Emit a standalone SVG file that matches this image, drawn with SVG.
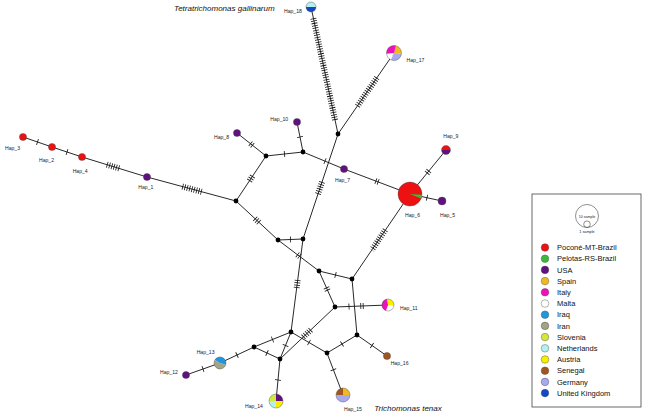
<svg xmlns="http://www.w3.org/2000/svg" width="650" height="419" viewBox="0 0 650 419">
<style>
.e{stroke:#111;stroke-width:0.9;fill:none}
.t{stroke:#111;stroke-width:6;stroke-dasharray:0.8 1.6;fill:none}
.j{fill:#000}
.n{stroke:#444;stroke-width:0.4}
.lb{font-family:"Liberation Sans",Arial,sans-serif;font-size:5.1px;fill:#222}
.sp{font-family:"Liberation Sans",Arial,sans-serif;font-size:8px;font-style:italic;fill:#111}
.lg{font-family:"Liberation Sans",Arial,sans-serif;font-size:7.5px;fill:#111}
.red{fill:#ee1111}.grn{fill:#3cb93c}.usa{fill:#60117f}.spa{fill:#f2b81f}.ita{fill:#ee11bb}.mal{fill:#ffffff}
.irq{fill:#2196dc}.irn{fill:#a3a386}.slo{fill:#d4e83a}.net{fill:#b3f0f0}.aus{fill:#f5f000}.sen{fill:#a0561e}
.ger{fill:#a9a9ee}.uk{fill:#1148c8}
</style>
<rect width="650" height="419" fill="#ffffff"/>
<g id="connectors">
<line class="e" x1="23" y1="137" x2="52" y2="147"/>
<line class="e" x1="52" y1="147" x2="82" y2="157"/>
<line class="e" x1="82" y1="157" x2="147" y2="177"/>
<line class="e" x1="147" y1="177" x2="236" y2="201"/>
<line class="e" x1="236" y1="201" x2="266" y2="156"/>
<line class="e" x1="237" y1="133" x2="266" y2="156"/>
<line class="e" x1="266" y1="156" x2="303" y2="152"/>
<line class="e" x1="303" y1="152" x2="297" y2="122"/>
<line class="e" x1="303" y1="152" x2="344" y2="169"/>
<line class="e" x1="344" y1="169" x2="410" y2="194"/>
<line class="e" x1="338" y1="134" x2="311" y2="7"/>
<line class="e" x1="338" y1="134" x2="394" y2="53"/>
<line class="e" x1="338" y1="134" x2="303" y2="239"/>
<line class="e" x1="236" y1="201" x2="278" y2="240"/>
<line class="e" x1="278" y1="240" x2="303" y2="239"/>
<line class="e" x1="278" y1="240" x2="319" y2="271"/>
<line class="e" x1="303" y1="239" x2="291" y2="332"/>
<line class="e" x1="319" y1="271" x2="352" y2="279"/>
<line class="e" x1="319" y1="271" x2="335" y2="307"/>
<line class="e" x1="352" y1="279" x2="410" y2="194"/>
<line class="e" x1="352" y1="279" x2="357" y2="335"/>
<line class="e" x1="335" y1="307" x2="388" y2="305"/>
<line class="e" x1="335" y1="307" x2="280" y2="359"/>
<line class="e" x1="291" y1="332" x2="254" y2="347"/>
<line class="e" x1="291" y1="332" x2="280" y2="359"/>
<line class="e" x1="254" y1="347" x2="280" y2="359"/>
<line class="e" x1="291" y1="332" x2="327" y2="353"/>
<line class="e" x1="327" y1="353" x2="357" y2="335"/>
<line class="e" x1="357" y1="335" x2="387" y2="356"/>
<line class="e" x1="327" y1="353" x2="343" y2="395"/>
<line class="e" x1="280" y1="359" x2="276" y2="401"/>
<line class="e" x1="254" y1="347" x2="220" y2="363"/>
<line class="e" x1="220" y1="363" x2="186" y2="375"/>
<line class="e" x1="410" y1="194" x2="446" y2="150"/>
<line class="e" x1="410" y1="194" x2="442" y2="201"/>
<!-- mutation ticks -->
<line class="t" x1="37.12" y1="141.87" x2="37.88" y2="142.13"/>
<line class="t" x1="66.62" y1="151.87" x2="67.38" y2="152.13"/>
<line class="t" x1="106.88" y1="164.62" x2="119.12" y2="168.38"/>
<line class="t" x1="182.35" y1="186.53" x2="201.66" y2="191.73"/>
<line class="t" x1="250.25" y1="143.51" x2="252.75" y2="145.49"/>
<line class="t" x1="284.1" y1="154.04" x2="284.9" y2="153.96"/>
<line class="t" x1="300.08" y1="137.39" x2="299.92" y2="136.61"/>
<line class="t" x1="324.63" y1="160.97" x2="325.37" y2="161.27"/>
<line class="t" x1="375.5" y1="180.93" x2="378.5" y2="182.07"/>
<line class="t" x1="252.55" y1="176.17" x2="249.45" y2="180.83"/>
<line class="t" x1="254.95" y1="218.59" x2="259.05" y2="222.41"/>
<line class="t" x1="290.1" y1="239.52" x2="290.9" y2="239.48"/>
<line class="t" x1="322.02" y1="181.93" x2="317.98" y2="194.07"/>
<line class="t" x1="335" y1="120" x2="313.3" y2="18"/>
<line class="t" x1="357.4" y1="106" x2="377.4" y2="77"/>
<line class="t" x1="426.99" y1="173.24" x2="429.01" y2="170.76"/>
<line class="t" x1="426.61" y1="197.63" x2="427.39" y2="197.81"/>
<line class="t" x1="385.4" y1="230" x2="371.8" y2="250"/>
<line class="t" x1="297.22" y1="254.54" x2="299.78" y2="256.46"/>
<line class="t" x1="297.71" y1="280.03" x2="296.69" y2="287.97"/>
<line class="t" x1="335.11" y1="274.9" x2="335.89" y2="275.1"/>
<line class="t" x1="326.35" y1="287.54" x2="327.65" y2="290.46"/>
<line class="t" x1="348.6" y1="306.49" x2="349.4" y2="306.45"/>
<line class="t" x1="360.4" y1="306.04" x2="363.6" y2="305.92"/>
<line class="t" x1="310.78" y1="329.93" x2="303.22" y2="337.07"/>
<line class="t" x1="272.87" y1="339.35" x2="272.13" y2="339.65"/>
<line class="t" x1="285.65" y1="345.13" x2="285.35" y2="345.87"/>
<line class="t" x1="266.64" y1="352.83" x2="267.36" y2="353.17"/>
<line class="t" x1="308.65" y1="342.3" x2="309.35" y2="342.7"/>
<line class="t" x1="341.66" y1="344.21" x2="342.34" y2="343.79"/>
<line class="t" x1="371.67" y1="345.27" x2="372.33" y2="345.73"/>
<line class="t" x1="333.26" y1="369.43" x2="333.54" y2="370.17"/>
<line class="t" x1="278.04" y1="379.6" x2="277.96" y2="380.4"/>
<line class="t" x1="237.36" y1="354.83" x2="236.64" y2="355.17"/>
<line class="t" x1="203.38" y1="368.87" x2="202.62" y2="369.13"/>
</g>
<g id="junctions">
<circle class="j" cx="338" cy="134" r="2.4"/>
<circle class="j" cx="236" cy="201" r="2.4"/>
<circle class="j" cx="266" cy="156" r="2.4"/>
<circle class="j" cx="303" cy="152" r="2.4"/>
<circle class="j" cx="278" cy="240" r="2.4"/>
<circle class="j" cx="303" cy="239" r="2.4"/>
<circle class="j" cx="319" cy="271" r="2.4"/>
<circle class="j" cx="352" cy="279" r="2.4"/>
<circle class="j" cx="335" cy="307" r="2.4"/>
<circle class="j" cx="357" cy="335" r="2.4"/>
<circle class="j" cx="291" cy="332" r="2.4"/>
<circle class="j" cx="254" cy="347" r="2.4"/>
<circle class="j" cx="280" cy="359" r="2.4"/>
<circle class="j" cx="327" cy="353" r="2.4"/>
</g>
<g id="Hap_18">
<path class="net" d="M306,7 A5,5 0 0 1 316,7 Z"/>
<path class="uk" d="M316,7 A5,5 0 0 1 306,7 Z"/>
<circle cx="311" cy="7" r="5" fill="none" class="n"/>
<text class="lb" x="284" y="13">Hap_18</text>
</g>
<g id="Hap_17">
<path class="spa" d="M394,53 L395.94,45.76 A7.5,7.5 0 0 1 401.47,53.65 Z"/>
<path class="ger" d="M394,53 L401.47,53.65 A7.5,7.5 0 0 1 390.83,59.8 Z"/>
<path class="mal" d="M394,53 L390.83,59.8 A7.5,7.5 0 0 1 386.53,53.65 Z"/>
<path class="ita" d="M394,53 L386.53,53.65 A7.5,7.5 0 0 1 395.94,45.76 Z"/>
<circle cx="394" cy="53" r="7.5" fill="none" class="n"/>
<text class="lb" x="406.5" y="61.5">Hap_17</text>
</g>
<g id="Hap_3"><circle class="red n" cx="23" cy="137" r="3.6"/><text class="lb" x="5" y="150">Hap_3</text></g>
<g id="Hap_2"><circle class="red n" cx="52" cy="147" r="3.6"/><text class="lb" x="39" y="161.7">Hap_2</text></g>
<g id="Hap_4"><circle class="red n" cx="82" cy="157" r="3.6"/><text class="lb" x="72.7" y="173.3">Hap_4</text></g>
<g id="Hap_1"><circle class="usa n" cx="147" cy="177" r="3.6"/><text class="lb" x="138.3" y="189">Hap_1</text></g>
<g id="Hap_8"><circle class="usa n" cx="237" cy="133" r="3.6"/><text class="lb" x="214" y="139">Hap_8</text></g>
<g id="Hap_10"><circle class="usa n" cx="297" cy="122" r="3.6"/><text class="lb" x="270.3" y="121.3">Hap_10</text></g>
<g id="Hap_7"><circle class="usa n" cx="344" cy="169" r="3.6"/><text class="lb" x="335" y="182.3">Hap_7</text></g>
<g id="Hap_6">
<circle class="red n" cx="410" cy="194" r="12"/>
<path class="grn" d="M410,194 L421.98,194.63 A12,12 0 0 1 421.13,198.5 Z"/>
<text class="lb" x="405" y="216.7">Hap_6</text>
</g>
<g id="Hap_9">
<path class="red" d="M441.5,150 A4.5,4.5 0 0 1 450.5,150 Z"/>
<path class="usa" d="M450.5,150 A4.5,4.5 0 0 1 441.5,150 Z"/>
<circle cx="446" cy="150" r="4.5" fill="none" class="n"/>
<text class="lb" x="443.3" y="138.3">Hap_9</text>
</g>
<g id="Hap_5"><circle class="usa n" cx="442" cy="201" r="4"/><text class="lb" x="440" y="216.7">Hap_5</text></g>
<g id="Hap_11">
<path class="aus" d="M388,305 L386.96,299.09 A6,6 0 0 1 393.91,306.04 Z"/>
<path class="mal" d="M388,305 L393.91,306.04 A6,6 0 0 1 385.95,310.64 Z"/>
<path class="ita" d="M388,305 L385.95,310.64 A6,6 0 0 1 386.96,299.09 Z"/>
<circle cx="388" cy="305" r="6" fill="none" class="n"/>
<text class="lb" x="400" y="309.7">Hap_11</text>
</g>
<g id="Hap_13">
<path class="irq" d="M220,363 L214.8,360 A6,6 0 0 1 225.64,365.05 Z"/>
<path class="irn" d="M220,363 L225.64,365.05 A6,6 0 1 1 214.8,360 Z"/>
<circle cx="220" cy="363" r="6" fill="none" class="n"/>
<text class="lb" x="196.7" y="354.3">Hap_13</text>
</g>
<g id="Hap_12"><circle class="usa n" cx="186" cy="375" r="3.6"/><text class="lb" x="160" y="374">Hap_12</text></g>
<g id="Hap_14">
<path class="usa" d="M276,401 L276,394 A7,7 0 0 1 283,401 Z"/>
<path class="aus" d="M276,401 L283,401 A7,7 0 0 1 276,408 Z"/>
<path class="net" d="M276,401 L276,408 A7,7 0 0 1 269,401 Z"/>
<path class="slo" d="M276,401 L269,401 A7,7 0 0 1 276,394 Z"/>
<circle cx="276" cy="401" r="7" fill="none" class="n"/>
<text class="lb" x="245" y="408.3">Hap_14</text>
</g>
<g id="Hap_15">
<path class="sen" d="M343,395 L336,395 A7,7 0 0 1 343,388 Z"/>
<path class="spa" d="M343,395 L343,388 A7,7 0 0 1 350,395 Z"/>
<path class="ger" d="M350,395 A7,7 0 0 1 336,395 Z"/>
<circle cx="343" cy="395" r="7" fill="none" class="n"/>
<text class="lb" x="344" y="411.3">Hap_15</text>
</g>
<g id="Hap_16"><circle class="sen n" cx="387" cy="356" r="3.6"/><text class="lb" x="390.7" y="365.3">Hap_16</text></g>
<text class="sp" x="174" y="10.5">Tetratrichomonas gallinarum</text>
<text class="sp" x="374.3" y="410.7">Trichomonas tenax</text>
<g id="legend">
<rect x="532" y="194" width="109" height="213" fill="#ffffff" stroke="#444" stroke-width="0.8"/>
<circle cx="587" cy="216" r="11.5" fill="none" stroke="#444" stroke-width="0.6"/>
<circle cx="587" cy="224.2" r="3.3" fill="none" stroke="#444" stroke-width="0.6"/>
<text x="587" y="217.5" text-anchor="middle" font-family="Liberation Sans, Arial, sans-serif" font-size="3.6" fill="#222">10 sample</text>
<text x="587" y="233" text-anchor="middle" font-family="Liberation Sans, Arial, sans-serif" font-size="3.8" fill="#222">1 sample</text>
<circle class="red n" cx="545" cy="247.5" r="3.8"/><text class="lg" x="557" y="250.2">Poconé-MT-Brazil</text>
<circle class="grn n" cx="545" cy="258.7" r="3.8"/><text class="lg" x="557" y="261.4">Pelotas-RS-Brazil</text>
<circle class="usa n" cx="545" cy="269.9" r="3.8"/><text class="lg" x="557" y="272.6">USA</text>
<circle class="spa n" cx="545" cy="281.1" r="3.8"/><text class="lg" x="557" y="283.8">Spain</text>
<circle class="ita n" cx="545" cy="292.3" r="3.8"/><text class="lg" x="557" y="295">Italy</text>
<circle class="mal n" cx="545" cy="303.5" r="3.8"/><text class="lg" x="557" y="306.2">Malta</text>
<circle class="irq n" cx="545" cy="314.7" r="3.8"/><text class="lg" x="557" y="317.4">Iraq</text>
<circle class="irn n" cx="545" cy="325.9" r="3.8"/><text class="lg" x="557" y="328.6">Iran</text>
<circle class="slo n" cx="545" cy="337.1" r="3.8"/><text class="lg" x="557" y="339.8">Slovenia</text>
<circle class="net n" cx="545" cy="348.3" r="3.8"/><text class="lg" x="557" y="351">Netherlands</text>
<circle class="aus n" cx="545" cy="359.5" r="3.8"/><text class="lg" x="557" y="362.2">Austria</text>
<circle class="sen n" cx="545" cy="370.7" r="3.8"/><text class="lg" x="557" y="373.4">Senegal</text>
<circle class="ger n" cx="545" cy="381.9" r="3.8"/><text class="lg" x="557" y="384.6">Germany</text>
<circle class="uk n" cx="545" cy="393.1" r="3.8"/><text class="lg" x="557" y="395.8">United Kingdom</text>
</g>
</svg>
